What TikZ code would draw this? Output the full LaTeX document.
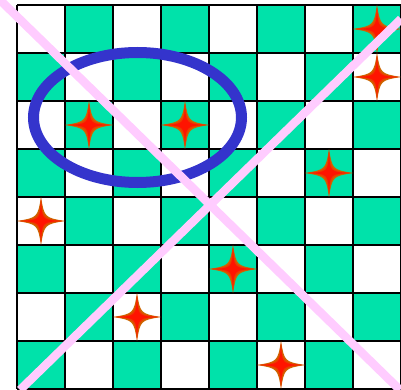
\documentclass[tikz,border=0pt]{standalone}
\definecolor{boardgreen}{RGB}{0,226,170}
\definecolor{ringblue}{RGB}{52,52,204}
\definecolor{crosspink}{RGB}{255,204,255}
\definecolor{starouter}{RGB}{205,102,0}
\definecolor{starmid}{RGB}{235,60,0}
\definecolor{starinner}{RGB}{255,20,0}
\tikzset{
  gridline/.style={draw=black,line width=2pt},
  ringline/.style={draw=ringblue,line width=11pt},
  crossline/.style={draw=crosspink,line width=8.5pt},
  pics/fourstar/.style={code={
    \fill[starouter] (24,0) .. controls (3.5,3.5) .. (0,24) .. controls (-3.5,3.5) .. (-24,0) .. controls (-3.5,-3.5) .. (0,-24) .. controls (3.5,-3.5) .. cycle;
    \fill[starmid] (23,0) .. controls (2.2,2.2) .. (0,23) .. controls (-2.2,2.2) .. (-23,0) .. controls (-2.2,-2.2) .. (0,-23) .. controls (2.2,-2.2) .. cycle;
    \fill[starinner] (21,0) .. controls (1,1) .. (0,21) .. controls (-1,1) .. (-21,0) .. controls (-1,-1) .. (0,-21) .. controls (1,-1) .. cycle;
  }}
}
\begin{document}
\begin{tikzpicture}[x=1pt,y=-1pt]
\useasboundingbox (0,0) rectangle (401,390);
\clip (0,0) rectangle (401,390);
\fill[white] (0,0) rectangle (401,390);
% cells
\foreach \i in {0,...,7}{
  \foreach \j in {0,...,7}{
    \pgfmathtruncatemacro{\cellpar}{mod(\i+\j,2)}
    \ifnum\cellpar=1
      \fill[boardgreen] ({17+48*\i},{5+48*\j}) rectangle ++(48,48);
    \fi
  }
}
% grid
\foreach \k in {0,...,8}{
  \draw[gridline] ({17+48*\k},5) -- ({17+48*\k},389);
  \draw[gridline] (17,{5+48*\k}) -- (401,{5+48*\k});
}
% stars
\pic at (89,125) {fourstar};
\pic at (185,125) {fourstar};
\pic at (377,29) {fourstar};
\pic at (377,77) {fourstar};
\pic at (329,173) {fourstar};
\pic at (41,221) {fourstar};
\pic at (233,269) {fourstar};
\pic at (137,317) {fourstar};
\pic at (281,365) {fourstar};
% ellipse
\draw[ringline] (137.5,117.5) ellipse [x radius=104, y radius=65];
% cross
\coordinate (a1) at (0,0);
\coordinate (a2) at (400,390);
\coordinate (b1) at (20,390);
\coordinate (b2) at (401,19);
\draw[crossline] (a1) -- (a2);
\draw[crossline] (b1) -- (b2);
\end{tikzpicture}
\end{document}
